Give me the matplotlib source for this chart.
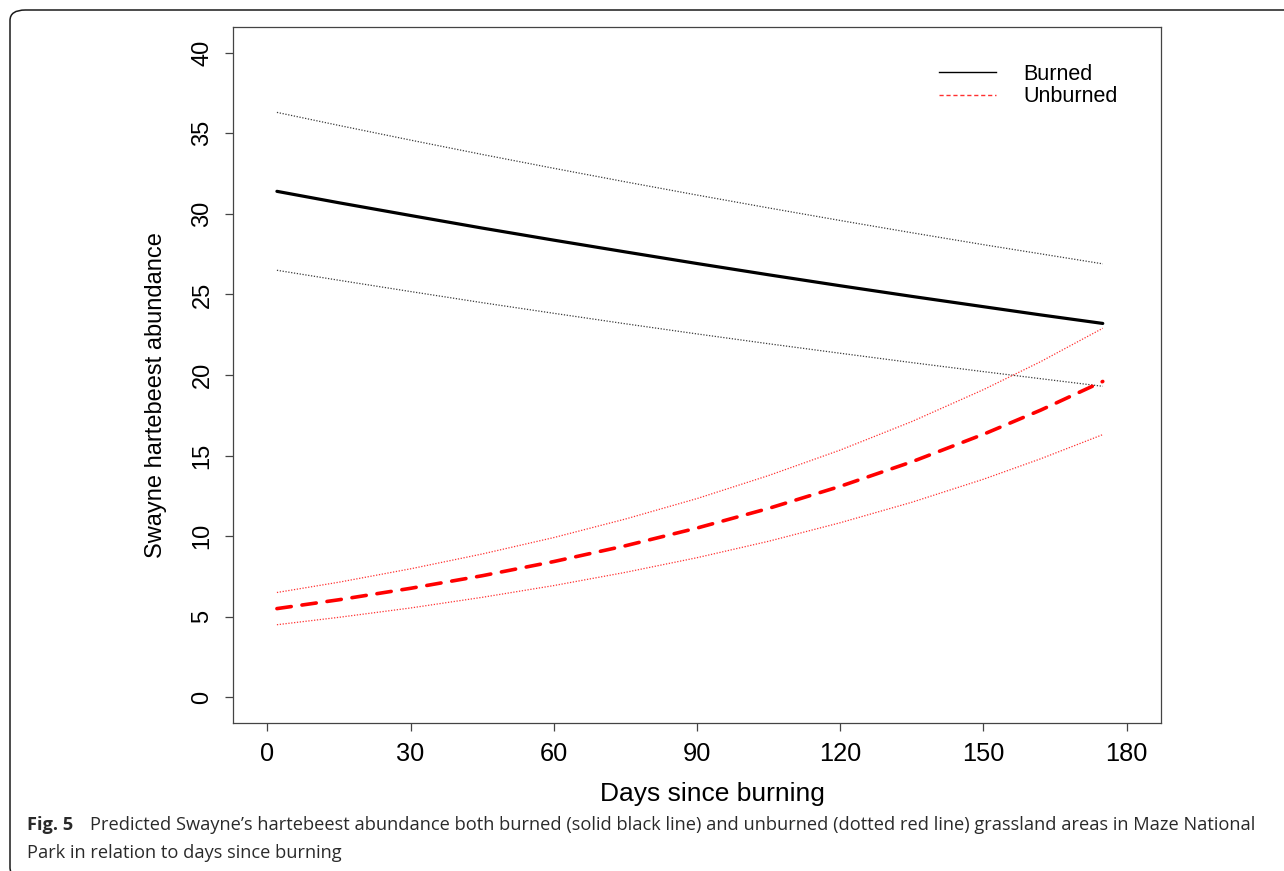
import matplotlib
matplotlib.use("Agg")
import matplotlib.pyplot as plt
from matplotlib.lines import Line2D
from matplotlib.patches import FancyBboxPatch

# ---- data ----
days = [2, 15, 30, 45, 60, 75, 90, 105, 120, 135, 150, 162, 175]
burned_mean = [31.4, 30.69, 29.90, 29.12, 28.37, 27.64, 26.92, 26.22, 25.54, 24.88, 24.24, 23.73, 23.2]
burned_upper = [36.3, 35.49, 34.58, 33.69, 32.83, 31.99, 31.17, 30.37, 29.59, 28.83, 28.09, 27.52, 26.9]
burned_lower = [26.5, 25.88, 25.18, 24.49, 23.83, 23.18, 22.55, 21.94, 21.35, 20.77, 20.21, 19.77, 19.3]
unburned_mean = [5.5, 6.05, 6.76, 7.54, 8.42, 9.40, 10.50, 11.72, 13.09, 14.61, 16.32, 17.82, 19.6]
unburned_upper = [6.5, 7.14, 7.97, 8.89, 9.91, 11.06, 12.33, 13.76, 15.34, 17.11, 19.09, 20.83, 22.9]
unburned_lower = [4.5, 4.96, 5.54, 6.20, 6.93, 7.75, 8.66, 9.68, 10.83, 12.10, 13.53, 14.80, 16.3]
x_ticks = [0, 30, 60, 90, 120, 150, 180]
y_ticks = [0, 5, 10, 15, 20, 25, 30, 35, 40]
legend_labels = ["Burned", "Unburned"]

W, H = 1284, 871
plt.rcParams['font.family'] = ['Liberation Sans', 'DejaVu Sans']
fig = plt.figure(figsize=(W / 100, H / 100), dpi=100)

# outer rounded frame (cropped on right/bottom)
frame = FancyBboxPatch((10 / W, 1 - 878 / H), (1400 - 10) / W, (878 - 10) / H,
                       boxstyle="round,pad=0,rounding_size=0.012",
                       transform=fig.transFigure, fill=False,
                       edgecolor='#1a1a1a', linewidth=1.1, clip_on=False)
fig.patches.append(frame)

ax = fig.add_axes([233 / W, 1 - 723 / H, (1161 - 233) / W, (723 - 27) / H])

ax.plot(days, burned_mean, color='black', lw=2.3, solid_capstyle='round')
ax.plot(days, burned_upper, color='#3a3a3a', lw=0.9, linestyle=(0, (1, 1.3)))
ax.plot(days, burned_lower, color='#3a3a3a', lw=0.9, linestyle=(0, (1, 1.3)))
ax.plot(days, unburned_mean, color='#ff0000', lw=2.6, linestyle=(0, (4, 3)),
        dash_capstyle='round')
ax.plot(days, unburned_upper, color='#ff3030', lw=0.9, linestyle=(0, (1, 1.3)))
ax.plot(days, unburned_lower, color='#ff3030', lw=0.9, linestyle=(0, (1, 1.3)))

ax.set_xlim(-7.2, 187.2)
ax.set_ylim(-1.6, 41.6)
ax.set_xticks(x_ticks)
ax.set_yticks(y_ticks)
ax.set_xticklabels([str(v) for v in x_ticks], fontsize=18.3)
ax.set_yticklabels([str(v) for v in y_ticks], fontsize=17, rotation=90, va='center')
ax.tick_params(axis='both', length=6, width=0.9, color='#444444', pad=8)
for s in ax.spines.values():
    s.set_color('#444444')
    s.set_linewidth(0.9)

ax.set_xlabel("Days since burning", fontsize=19)
ax.xaxis.set_label_coords((712 - 233) / 928, (723 - 782) / 696)
ax.set_ylabel("Swayne hartebeest abundance", fontsize=17, labelpad=18)
ax.yaxis.label.set_y((723 - 395) / (723 - 27))

handles = [Line2D([], [], color='black', lw=1),
           Line2D([], [], color='#ff3030', lw=1, linestyle=(0, (3, 2)))]
ax.legend(handles, legend_labels, loc='upper left',
          bbox_to_anchor=((939 - 233) / 928, (723 - 64) / 696),
          frameon=False, fontsize=15.5, handlelength=2.65, handletextpad=1.25,
          labelspacing=0.05, borderpad=0, borderaxespad=0)

# caption
cap_color = '#2a2a2a'
fig.text(27 / W, 1 - 825 / H, "Fig. 5", fontsize=13.15, fontweight='bold',
         family='Open Sans', va='center', ha='left', color=cap_color)
fig.text(90 / W, 1 - 825 / H,
         "Predicted Swayne\u2019s hartebeest abundance both burned (solid black line) and unburned (dotted red line) grassland areas in Maze National",
         fontsize=13.15, family='Open Sans', va='center', ha='left', color=cap_color)
fig.text(27 / W, 1 - 853 / H, "Park in relation to days since burning",
         fontsize=13.15, family='Open Sans', va='center', ha='left', color=cap_color)

fig.savefig("out.png", dpi=100)
